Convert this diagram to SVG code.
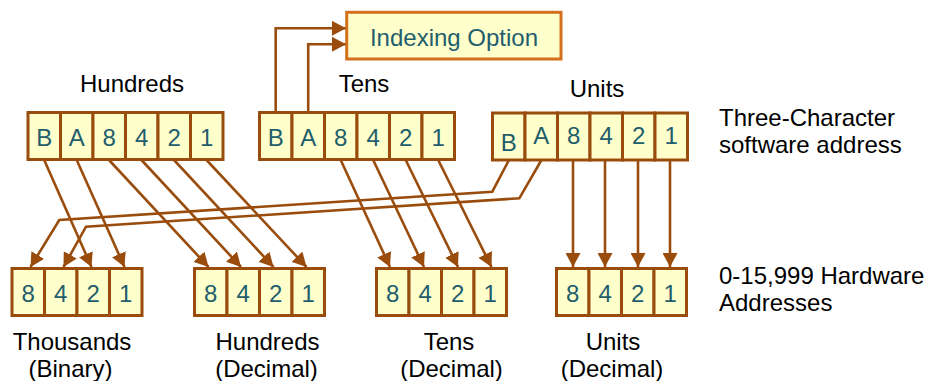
<svg xmlns="http://www.w3.org/2000/svg" width="926" height="381" viewBox="0 0 926 381">
  <style>
    .cell { fill: #ffffcc; stroke: #994c0c; stroke-width: 3; }
    .idx { fill: #ffffcc; stroke: #d2701c; stroke-width: 3; }
    .dig { font-family: "Liberation Sans", Arial, sans-serif; font-size: 24px; fill: #225d6c; text-anchor: middle; }
    .lbl { font-family: "Liberation Sans", Arial, sans-serif; font-size: 24px; fill: #000; }
    .mid { text-anchor: middle; }
    .wire { fill: none; stroke: #994c0c; stroke-width: 2.6; marker-end: url(#head); }
  </style>
  <defs>
    <marker id="head" markerUnits="userSpaceOnUse" markerWidth="15" markerHeight="15" refX="14" refY="7.5" orient="auto">
      <path d="M0,0 L14,7.5 L0,15 z" fill="#994c0c"/>
    </marker>
  </defs>

  <rect width="926" height="381" fill="#ffffff"/>

  <!-- connectors -->
  <g id="connectors">
    <!-- indexing bits -->
    <path class="wire" d="M275.7,112 V28.3 H346"/>
    <path class="wire" d="M308.2,112 V44.3 H346"/>
    <!-- hundreds zone bits to thousands -->
    <path class="wire" d="M44.2,160 L91.5,267"/>
    <path class="wire" d="M76.7,160 L124.5,267"/>
    <!-- units zone bits to thousands -->
    <path class="wire" d="M508.7,160.5 L492.3,191.7 L59.3,220 L30.5,267"/>
    <path class="wire" d="M541.2,160.5 L519.3,198.3 L86,226.7 L63.5,267"/>
    <!-- hundreds digit -->
    <path class="wire" d="M109,160 L208.5,267"/>
    <path class="wire" d="M141.5,160 L241,267"/>
    <path class="wire" d="M174,160 L273.5,267"/>
    <path class="wire" d="M206.5,160 L306.5,267"/>
    <!-- tens digit -->
    <path class="wire" d="M340.7,160 L390,267"/>
    <path class="wire" d="M373.2,160 L424,267"/>
    <path class="wire" d="M405.7,160 L458,267"/>
    <path class="wire" d="M438.2,160 L491.5,267"/>
    <!-- units digit -->
    <path class="wire" d="M573,160 V267"/>
    <path class="wire" d="M605,160 V267"/>
    <path class="wire" d="M638,160 V267"/>
    <path class="wire" d="M670,160 V267"/>
  </g>

  <!-- indexing option -->
  <g id="indexing">
    <rect class="idx" x="346.7" y="12.3" width="214.3" height="46.7"/>
    <text class="dig" x="454" y="46" font-size="24.5">Indexing Option</text>
  </g>

  <!-- software address characters -->
  <g id="sw-hundreds">
    <rect class="cell" x="28" y="112.5" width="32.5" height="47"/>
    <rect class="cell" x="60.5" y="112.5" width="32.5" height="47"/>
    <rect class="cell" x="93" y="112.5" width="32.5" height="47"/>
    <rect class="cell" x="125.5" y="112.5" width="32.5" height="47"/>
    <rect class="cell" x="158" y="112.5" width="32.5" height="47"/>
    <rect class="cell" x="190.5" y="112.5" width="32.5" height="47"/>
    <text class="dig" x="44.2" y="145.5">B</text>
    <text class="dig" x="76.7" y="145.5">A</text>
    <text class="dig" x="109.2" y="145.5">8</text>
    <text class="dig" x="141.7" y="145.5">4</text>
    <text class="dig" x="174.2" y="145.5">2</text>
    <text class="dig" x="206.7" y="145.5">1</text>
  </g>
  <g id="sw-tens">
    <rect class="cell" x="259.5" y="112.5" width="32.5" height="47"/>
    <rect class="cell" x="292" y="112.5" width="32.5" height="47"/>
    <rect class="cell" x="324.5" y="112.5" width="32.5" height="47"/>
    <rect class="cell" x="357" y="112.5" width="32.5" height="47"/>
    <rect class="cell" x="389.5" y="112.5" width="32.5" height="47"/>
    <rect class="cell" x="422" y="112.5" width="32.5" height="47"/>
    <text class="dig" x="275.7" y="145.5">B</text>
    <text class="dig" x="308.2" y="145.5">A</text>
    <text class="dig" x="340.7" y="145.5">8</text>
    <text class="dig" x="373.2" y="145.5">4</text>
    <text class="dig" x="405.7" y="145.5">2</text>
    <text class="dig" x="438.2" y="145.5">1</text>
  </g>
  <g id="sw-units">
    <rect class="cell" x="492.5" y="113" width="32.5" height="47"/>
    <rect class="cell" x="525" y="113" width="32.5" height="47"/>
    <rect class="cell" x="557.5" y="113" width="32.5" height="47"/>
    <rect class="cell" x="590" y="113" width="32.5" height="47"/>
    <rect class="cell" x="622.5" y="113" width="32.5" height="47"/>
    <rect class="cell" x="655" y="113" width="32.5" height="47"/>
    <text class="dig" x="508.7" y="150.5">B</text>
    <text class="dig" x="541.2" y="144">A</text>
    <text class="dig" x="573.7" y="144">8</text>
    <text class="dig" x="606.2" y="144">4</text>
    <text class="dig" x="638.7" y="144">2</text>
    <text class="dig" x="671.2" y="144">1</text>
  </g>

  <!-- hardware address digits -->
  <g id="hw-thousands">
    <rect class="cell" x="12" y="268.5" width="32.5" height="47"/>
    <rect class="cell" x="44.5" y="268.5" width="32.5" height="47"/>
    <rect class="cell" x="77" y="268.5" width="32.5" height="47"/>
    <rect class="cell" x="109.5" y="268.5" width="32.5" height="47"/>
    <text class="dig" x="28.2" y="301.5">8</text>
    <text class="dig" x="60.7" y="301.5">4</text>
    <text class="dig" x="93.2" y="301.5">2</text>
    <text class="dig" x="125.7" y="301.5">1</text>
  </g>
  <g id="hw-hundreds">
    <rect class="cell" x="194.5" y="268.5" width="32.5" height="47"/>
    <rect class="cell" x="227" y="268.5" width="32.5" height="47"/>
    <rect class="cell" x="259.5" y="268.5" width="32.5" height="47"/>
    <rect class="cell" x="292" y="268.5" width="32.5" height="47"/>
    <text class="dig" x="210.7" y="301.5">8</text>
    <text class="dig" x="243.2" y="301.5">4</text>
    <text class="dig" x="275.7" y="301.5">2</text>
    <text class="dig" x="308.2" y="301.5">1</text>
  </g>
  <g id="hw-tens">
    <rect class="cell" x="376.5" y="268.5" width="32.5" height="47"/>
    <rect class="cell" x="409" y="268.5" width="32.5" height="47"/>
    <rect class="cell" x="441.5" y="268.5" width="32.5" height="47"/>
    <rect class="cell" x="474" y="268.5" width="32.5" height="47"/>
    <text class="dig" x="392.7" y="301.5">8</text>
    <text class="dig" x="425.2" y="301.5">4</text>
    <text class="dig" x="457.7" y="301.5">2</text>
    <text class="dig" x="490.2" y="301.5">1</text>
  </g>
  <g id="hw-units">
    <rect class="cell" x="556.5" y="268.5" width="32.5" height="47"/>
    <rect class="cell" x="589" y="268.5" width="32.5" height="47"/>
    <rect class="cell" x="621.5" y="268.5" width="32.5" height="47"/>
    <rect class="cell" x="654" y="268.5" width="32.5" height="47"/>
    <text class="dig" x="572.7" y="301.5">8</text>
    <text class="dig" x="605.2" y="301.5">4</text>
    <text class="dig" x="637.7" y="301.5">2</text>
    <text class="dig" x="670.2" y="301.5">1</text>
  </g>

  <!-- labels -->
  <g id="labels">
    <text class="lbl mid" x="132" y="91.5">Hundreds</text>
    <text class="lbl mid" x="364" y="91.7">Tens</text>
    <text class="lbl mid" x="597" y="96.5">Units</text>
    <text class="lbl" x="719" y="126">Three-Character</text>
    <text class="lbl" x="719" y="153">software address</text>
    <text class="lbl" x="719" y="284">0-15,999 Hardware</text>
    <text class="lbl" x="719" y="311">Addresses</text>
    <text class="lbl mid" x="72" y="350">Thousands</text>
    <text class="lbl mid" x="70.5" y="377">(Binary)</text>
    <text class="lbl mid" x="267.5" y="350">Hundreds</text>
    <text class="lbl mid" x="266.5" y="377">(Decimal)</text>
    <text class="lbl mid" x="449" y="350">Tens</text>
    <text class="lbl mid" x="451.5" y="377">(Decimal)</text>
    <text class="lbl mid" x="613" y="350">Units</text>
    <text class="lbl mid" x="612" y="377">(Decimal)</text>
  </g>
</svg>
